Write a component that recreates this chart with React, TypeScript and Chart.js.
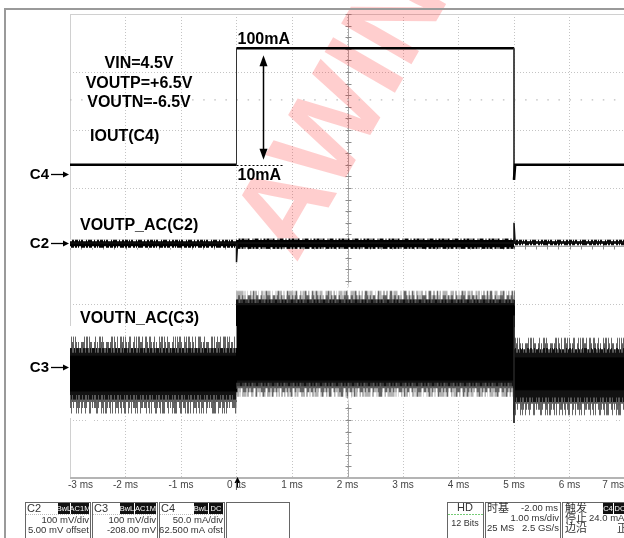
import React, { useEffect, useRef } from "react";
import { Chart, registerables } from "chart.js";

Chart.register(...registerables);

// ---------------- data (time in ms, levels in screen divisions) ----------------
const timeTicksMs = [-3, -2, -1, 0, 1, 2, 3, 4, 5, 6, 7];
const timeTickLabels = ["-3 ms", "-2 ms", "-1 ms", "0 µs", "1 ms", "2 ms", "3 ms", "4 ms", "5 ms", "6 ms", "7 ms"];

// C4: IOUT 10mA -> 100mA -> 10mA
const c4TimeMs = [-3, 0, 0, 5, 5, 5.02, 7];
const c4LevelDiv = [1.4, 1.4, 3.41, 3.41, 1.14, 1.4, 1.4];

// C2: VOUTP AC
const c2TimeMs = [-3, 0, 0, 0.02, 5, 5, 5.02, 7];
const c2LevelDiv = [0.05, 0.05, -0.28, 0.05, 0.05, 0.4, 0.06, 0.06];
const c2BandTimeMs = [-3, 0, 0, 5, 5, 7];
const c2UpperDiv = [0.1, 0.1, 0.12, 0.12, 0.1, 0.1];
const c2LowerDiv = [-0.02, -0.02, -0.04, -0.04, 0.02, 0.02];

// C3: VOUTN AC ripple envelope (outer spikes, dense fringe, solid core)
const c3TimeMs = [-3, 0, 0, 5, 5, 7];
const c3OuterTopDiv = [-1.57, -1.57, -0.78, -0.78, -1.59, -1.59];
const c3OuterBottomDiv = [-2.88, -2.88, -2.59, -2.59, -2.91, -2.91];
const c3MidTopDiv = [-1.77, -1.77, -0.93, -0.93, -1.77, -1.77];
const c3MidBottomDiv = [-2.64, -2.64, -2.41, -2.41, -2.68, -2.68];
const c3CoreTopDiv = [-1.9, -1.9, -1.03, -1.03, -1.93, -1.93];
const c3CoreBottomDiv = [-2.5, -2.5, -2.31, -2.31, -2.48, -2.48];
const c3SpikeTimeMs = [5, 5];
const c3SpikeDiv = [-1.2, -3.05];

// sparse reference level line
const refLevelTimeMs = [-3, 7];
const refLevelDiv = [2.52, 2.52];

// ---------------- helpers ----------------
const pts = (xs: number[], ys: number[]) => xs.map((x, i) => ({ x, y: ys[i] }));
const isVertical = (c: any) => c.p0.parsed.x === c.p1.parsed.x;
const isHeavy = (c: any) => c.p0.parsed.x >= 0 && c.p1.parsed.x <= 5;
const SANS = '"Liberation Sans", Arial, sans-serif';
const CJK = '"Noto Sans CJK SC", sans-serif';

function drawArrowHead(ctx: CanvasRenderingContext2D, x: number, y: number, dir: "up" | "down" | "right", len: number, half: number) {
  ctx.beginPath();
  if (dir === "up") {
    ctx.moveTo(x, y);
    ctx.lineTo(x - half, y + len);
    ctx.lineTo(x + half, y + len);
  } else if (dir === "down") {
    ctx.moveTo(x, y);
    ctx.lineTo(x - half, y - len);
    ctx.lineTo(x + half, y - len);
  } else {
    ctx.moveTo(x, y);
    ctx.lineTo(x - len, y - half);
    ctx.lineTo(x - len, y + half);
  }
  ctx.closePath();
  ctx.fill();
}

function badge(ctx: CanvasRenderingContext2D, x: number, y: number, w: number, h: number, text: string) {
  ctx.fillStyle = "#111";
  ctx.fillRect(x, y, w, h);
  ctx.fillStyle = "#fff";
  ctx.font = `7.5px ${SANS}`;
  ctx.textAlign = "center";
  ctx.textBaseline = "middle";
  ctx.fillText(text, x + w / 2, y + h / 2 + 0.5);
}

function drawPanel(ctx: CanvasRenderingContext2D) {
  ctx.save();
  ctx.lineWidth = 1;
  const chans = [
    { x: 25, name: "C2", b: [["BwL", 58, 12], ["AC1M", 71, 18]], l1: "100 mV/div", l2: "5.00 mV offset" },
    { x: 92, name: "C3", b: [["BwL", 120, 14], ["AC1M", 135, 21]], l1: "100 mV/div", l2: "-208.00 mV" },
    { x: 159, name: "C4", b: [["BwL", 194, 14], ["DC", 209, 14]], l1: "50.0 mA/div", l2: "62.500 mA ofst" },
  ];
  for (const c of chans) {
    ctx.strokeStyle = "#666";
    ctx.strokeRect(c.x + 0.5, 502.5, 65, 44);
    ctx.strokeStyle = "#bbb";
    ctx.setLineDash([1, 1]);
    ctx.beginPath();
    ctx.moveTo(c.x + 1, 514.5);
    ctx.lineTo(c.x + 65, 514.5);
    ctx.stroke();
    ctx.setLineDash([]);
    ctx.fillStyle = "#333";
    ctx.font = `11px ${SANS}`;
    ctx.textAlign = "left";
    ctx.textBaseline = "middle";
    ctx.fillText(c.name, c.x + 2, 509);
    for (const [t, bx, bw] of c.b as any) badge(ctx, bx, 503, bw, 11, t);
    ctx.fillStyle = "#333";
    ctx.font = `9.5px ${SANS}`;
    ctx.textAlign = "right";
    ctx.fillText(c.l1, c.x + 64, 520);
    ctx.fillText(c.l2, c.x + 64, 530);
  }
  ctx.strokeStyle = "#666";
  ctx.strokeRect(226.5, 502.5, 63, 44);

  // HD box
  ctx.strokeRect(447.5, 502.5, 36, 44);
  ctx.fillStyle = "#333";
  ctx.font = `11px ${SANS}`;
  ctx.textAlign = "center";
  ctx.textBaseline = "middle";
  ctx.fillText("HD", 465, 508);
  ctx.strokeStyle = "#7c7";
  ctx.setLineDash([2, 1]);
  ctx.beginPath();
  ctx.moveTo(448, 514.5);
  ctx.lineTo(483, 514.5);
  ctx.stroke();
  ctx.setLineDash([]);
  ctx.font = `9px ${SANS}`;
  ctx.fillText("12 Bits", 465, 524);

  // timebase box
  ctx.strokeStyle = "#666";
  ctx.strokeRect(485.5, 502.5, 75, 44);
  ctx.fillStyle = "#333";
  ctx.font = `11px ${CJK}`;
  ctx.textAlign = "left";
  ctx.fillText("时基", 487, 508);
  ctx.font = `9.5px ${SANS}`;
  ctx.textAlign = "right";
  ctx.fillText("-2.00 ms", 558, 508);
  ctx.fillText("1.00 ms/div", 559, 518);
  ctx.fillText("2.5 GS/s", 559, 528);
  ctx.textAlign = "left";
  ctx.fillText("25 MS", 487, 528);

  // trigger box
  ctx.strokeStyle = "#666";
  ctx.strokeRect(562.5, 502.5, 70, 44);
  ctx.fillStyle = "#333";
  ctx.font = `11px ${CJK}`;
  ctx.textAlign = "left";
  ctx.fillText("触发", 565, 508);
  ctx.fillText("停止", 565, 518);
  ctx.fillText("边沿", 565, 528);
  ctx.fillText("正", 617, 528);
  badge(ctx, 603, 503, 10, 11, "C4");
  badge(ctx, 614, 503, 12, 11, "DC");
  ctx.fillStyle = "#333";
  ctx.font = `9.5px ${SANS}`;
  ctx.textAlign = "left";
  ctx.fillText("24.0 mA", 589, 518);
  ctx.restore();
}

const decorPlugin = {
  id: "scopeDecor",
  beforeDraw(chart: any) {
    const ctx = chart.ctx as CanvasRenderingContext2D;
    ctx.save();
    ctx.fillStyle = "#fff";
    ctx.fillRect(0, 0, chart.width, chart.height);
    ctx.restore();
  },
  beforeDatasetsDraw(chart: any) {
    const ctx = chart.ctx as CanvasRenderingContext2D;
    const xs = chart.scales.x;
    const ys = chart.scales.y;
    const { left, right, top, bottom } = chart.chartArea;
    ctx.save();
    // plot edges
    ctx.strokeStyle = "#d0d0d0";
    ctx.lineWidth = 1;
    ctx.beginPath();
    ctx.moveTo(left, top + 0.5);
    ctx.lineTo(right, top + 0.5);
    ctx.moveTo(left + 0.5, top);
    ctx.lineTo(left + 0.5, bottom);
    ctx.stroke();
    // center axes
    const cx = Math.round(xs.getPixelForValue(2)) + 0.5;
    const cy = Math.round(ys.getPixelForValue(0)) + 0.5;
    ctx.strokeStyle = "#a8a8a8";
    ctx.beginPath();
    ctx.moveTo(cx, top);
    ctx.lineTo(cx, bottom);
    ctx.moveTo(left, cy);
    ctx.lineTo(right, cy);
    ctx.stroke();
    ctx.strokeStyle = "#8c8c8c";
    ctx.beginPath();
    for (let v = -4; v <= 4.001; v += 0.2) {
      const y = Math.round(ys.getPixelForValue(v)) + 0.5;
      ctx.moveTo(cx - 3, y);
      ctx.lineTo(cx + 3, y);
    }
    for (let t = -3; t <= 7.001; t += 0.2) {
      const x = Math.round(xs.getPixelForValue(t)) + 0.5;
      ctx.moveTo(x, cy - 3);
      ctx.lineTo(x, cy + 3);
    }
    ctx.stroke();
    // watermark
    ctx.save();
    ctx.translate(296, 264);
    ctx.rotate(-Math.PI / 3);
    ctx.font = `bold 118px ${SANS}`;
    ctx.fillStyle = "rgba(255, 30, 30, 0.22)";
    ctx.textAlign = "left";
    ctx.textBaseline = "alphabetic";
    ctx.fillText("AWINIC", 0, 0);
    ctx.restore();
    ctx.restore();
  },
  afterDatasetsDraw(chart: any) {
    const ctx = chart.ctx as CanvasRenderingContext2D;
    const xs = chart.scales.x;
    const ys = chart.scales.y;
    ctx.save();
    ctx.fillStyle = "#000";
    ctx.strokeStyle = "#000";
    ctx.font = `bold 16px ${SANS}`;
    ctx.textBaseline = "middle";
    ctx.textAlign = "center";
    ctx.fillText("VIN=4.5V", 139, 64);
    ctx.fillText("VOUTP=+6.5V", 139, 84);
    ctx.fillText("VOUTN=-6.5V", 139, 103);
    ctx.textAlign = "left";
    ctx.fillText("IOUT(C4)", 90, 137);
    ctx.fillText("VOUTP_AC(C2)", 80, 226);
    ctx.fillText("VOUTN_AC(C3)", 80, 319);

    const x0 = xs.getPixelForValue(0);
    const yHi = ys.getPixelForValue(c4LevelDiv[2]);
    const yLo = ys.getPixelForValue(c4LevelDiv[0]);
    ctx.fillText("100mA", x0 + 1, yHi - 9);
    ctx.fillText("10mA", x0 + 1, yLo + 11);
    // dotted 10mA marker
    ctx.lineWidth = 1;
    ctx.setLineDash([2, 2]);
    ctx.beginPath();
    ctx.moveTo(x0, Math.round(yLo) + 0.5);
    ctx.lineTo(xs.getPixelForValue(0.83), Math.round(yLo) + 0.5);
    ctx.stroke();
    ctx.setLineDash([]);
    // double arrow
    const ax = Math.round(xs.getPixelForValue(0.47)) + 0.5;
    const aTop = yHi + 7;
    const aBot = yLo - 5;
    ctx.lineWidth = 1.5;
    ctx.beginPath();
    ctx.moveTo(ax, aTop + 6);
    ctx.lineTo(ax, aBot - 6);
    ctx.stroke();
    drawArrowHead(ctx, ax, aTop, "up", 11, 4);
    drawArrowHead(ctx, ax, aBot, "down", 11, 4);

    // channel markers
    const marks: [string, number][] = [["C4", c4LevelDiv[0] - 0.16], ["C2", 0.05], ["C3", -2.08]];
    ctx.font = `bold 15px ${SANS}`;
    for (const [name, lv] of marks) {
      const y = ys.getPixelForValue(lv);
      ctx.textAlign = "right";
      ctx.fillText(name, 49, y + 1);
      ctx.lineWidth = 1.3;
      ctx.beginPath();
      ctx.moveTo(51, Math.round(y) + 0.5);
      ctx.lineTo(64, Math.round(y) + 0.5);
      ctx.stroke();
      drawArrowHead(ctx, 69, Math.round(y) + 0.5, "right", 6, 3);
    }
    ctx.restore();
  },
  afterDraw(chart: any) {
    const ctx = chart.ctx as CanvasRenderingContext2D;
    const xs = chart.scales.x;
    const { left, right, bottom } = chart.chartArea;
    ctx.save();
    // bottom axis line
    ctx.strokeStyle = "#b4b4b4";
    ctx.lineWidth = 2;
    ctx.beginPath();
    ctx.moveTo(left, bottom);
    ctx.lineTo(right, bottom);
    ctx.stroke();
    // trigger marker
    const tx = Math.round(xs.getPixelForValue(0)) + 0.5;
    ctx.fillStyle = "#000";
    drawArrowHead(ctx, tx, bottom - 1, "up", 6, 3);
    ctx.lineWidth = 1;
    ctx.strokeStyle = "#000";
    ctx.beginPath();
    ctx.moveTo(tx, bottom + 4);
    ctx.lineTo(tx, bottom + 9);
    ctx.stroke();
    // time labels
    ctx.font = `10px ${SANS}`;
    ctx.fillStyle = "#444";
    ctx.textBaseline = "middle";
    ctx.textAlign = "left";
    timeTicksMs.forEach((t, i) => {
      const label = timeTickLabels[i];
      const w = ctx.measureText(label).width;
      let lx = xs.getPixelForValue(t) - w / 2;
      lx = Math.max(lx, left - 2);
      lx = Math.min(lx, 624 - w);
      ctx.fillText(label, lx, 485);
    });
    // outer frame
    ctx.strokeStyle = "#9a9a9a";
    ctx.lineWidth = 2;
    ctx.beginPath();
    ctx.moveTo(4, 9);
    ctx.lineTo(630, 9);
    ctx.moveTo(5, 9);
    ctx.lineTo(5, 540);
    ctx.stroke();
    ctx.restore();
    drawPanel(ctx);
  },
};

export default function App() {
  const ref = useRef<HTMLCanvasElement | null>(null);
  useEffect(() => {
    if (!ref.current) return;
    // texture strokes (styling only): irregular white slits give the ripple its spiky fringe
    const combA = [1, 3, 1, 2, 1, 1, 2, 4, 1, 2, 1, 3, 2, 2, 1, 1, 1, 5, 2, 3];
    const combB = [2, 2, 1, 3, 1, 1, 1, 2, 3, 1, 1, 4, 2, 1];
    const combC = [1, 2, 2, 1, 1, 3, 1, 1, 2, 2];
    const hideVertical = (col: string) => (c: any) => (isVertical(c) ? "rgba(0,0,0,0)" : col);
    const comb = (label: string, ys: number[], col: string, wLight: number, wHeavy: number, dash: number[], off: number, order: number) => ({
      label,
      data: pts(c3TimeMs, ys),
      borderColor: col,
      borderWidth: wLight,
      borderDash: dash,
      borderDashOffset: off,
      borderCapStyle: "butt",
      segment: {
        borderColor: hideVertical(col),
        borderWidth: (c: any) => (isHeavy(c) ? wHeavy : wLight),
      },
      order,
    });
    const chart = new Chart(ref.current, {
      type: "line",
      data: {
        datasets: [
          { label: "ref", data: pts(refLevelTimeMs, refLevelDiv), borderColor: "#bdbdbd", borderWidth: 1.2, borderDash: [1.5, 9.6], order: 50 },
          { label: "c3OuterTop", data: pts(c3TimeMs, c3OuterTopDiv), borderColor: "#707070", borderWidth: 1, backgroundColor: "#646464", fill: "+1", order: 40 },
          { label: "c3OuterBottom", data: pts(c3TimeMs, c3OuterBottomDiv), borderColor: "#707070", borderWidth: 1, order: 40 },
          { label: "c3MidTop", data: pts(c3TimeMs, c3MidTopDiv), borderColor: "#121212", borderWidth: 1, backgroundColor: "#121212", fill: "+1", order: 35 },
          { label: "c3MidBottom", data: pts(c3TimeMs, c3MidBottomDiv), borderColor: "#121212", borderWidth: 1, order: 35 },
          { label: "c3CoreTop", data: pts(c3TimeMs, c3CoreTopDiv), borderColor: "#000", borderWidth: 1, backgroundColor: "#000", fill: "+1", order: 30 },
          { label: "c3CoreBottom", data: pts(c3TimeMs, c3CoreBottomDiv), borderColor: "#000", borderWidth: 1, order: 30 },
          comb("c3MidCombTop", c3MidTopDiv, "#5a5a5a", 8, 6, combC, 1, 28),
          comb("c3MidCombBottom", c3MidBottomDiv, "#5a5a5a", 8, 6, combC, 4, 28),
          comb("c3CombTopA", c3OuterTopDiv, "#fff", 22, 16, combA, 0, 26),
          comb("c3CombTopB", c3OuterTopDiv, "#fff", 10, 8, combB, 2, 25),
          comb("c3CombBottomA", c3OuterBottomDiv, "#fff", 22, 16, combA, 5, 26),
          comb("c3CombBottomB", c3OuterBottomDiv, "#fff", 10, 8, combB, 1, 25),
          { label: "c3Spike", data: pts(c3SpikeTimeMs, c3SpikeDiv), borderColor: "#222", borderWidth: 1, order: 20 },
          { label: "c2Upper", data: pts(c2BandTimeMs, c2UpperDiv), borderColor: "#000", borderWidth: 1, backgroundColor: "#000", fill: "+1", order: 15 },
          { label: "c2Lower", data: pts(c2BandTimeMs, c2LowerDiv), borderColor: "#000", borderWidth: 1, order: 15 },
          { label: "c2CombTop", data: pts(c2BandTimeMs, c2UpperDiv), borderColor: "#fff", borderWidth: 2, borderDash: combB, segment: { borderColor: hideVertical("#fff") }, order: 13 },
          { label: "c2CombBottom", data: pts(c2BandTimeMs, c2LowerDiv), borderColor: "#fff", borderWidth: 2, borderDash: combA, segment: { borderColor: hideVertical("#fff") }, order: 13 },
          { label: "c2", data: pts(c2TimeMs, c2LevelDiv), borderColor: "#111", borderWidth: 1.5, order: 12 },
          {
            label: "c4",
            data: pts(c4TimeMs, c4LevelDiv),
            borderColor: "#000",
            borderWidth: 2.6,
            segment: {
              borderWidth: (c: any) => (isVertical(c) ? 1 : 2.6),
              borderColor: (c: any) => (isVertical(c) ? "#333" : "#000"),
            },
            order: 10,
          },
        ] as any,
      },
      options: {
        responsive: false,
        animation: false,
        events: [],
        layout: { padding: { top: 14, left: 0, right: 0, bottom: 0 } },
        elements: { point: { radius: 0 }, line: { tension: 0 } },
        plugins: { legend: { display: false }, tooltip: { enabled: false } },
        scales: {
          x: {
            type: "linear",
            min: -3,
            max: 7,
            ticks: { display: false, stepSize: 1 },
            grid: { color: "#c4c4c4", lineWidth: 1, drawTicks: false },
            border: { display: false, dash: [1, 2] },
            afterFit: (s: any) => {
              s.height = 60;
            },
          },
          y: {
            type: "linear",
            min: -4,
            max: 4,
            ticks: { display: false, stepSize: 1 },
            grid: { color: "#c4c4c4", lineWidth: 1, drawTicks: false },
            border: { display: false, dash: [1, 2] },
            afterFit: (s: any) => {
              s.width = 70;
            },
          },
        },
      } as any,
      plugins: [decorPlugin as any],
    });
    return () => chart.destroy();
  }, []);
  return (
    <div style={{ position: "fixed", left: 0, top: 0, width: 624, height: 538, overflow: "hidden", background: "#fff" }}>
      <canvas ref={ref} width={625} height={538} style={{ display: "block" }} />
    </div>
  );
}
